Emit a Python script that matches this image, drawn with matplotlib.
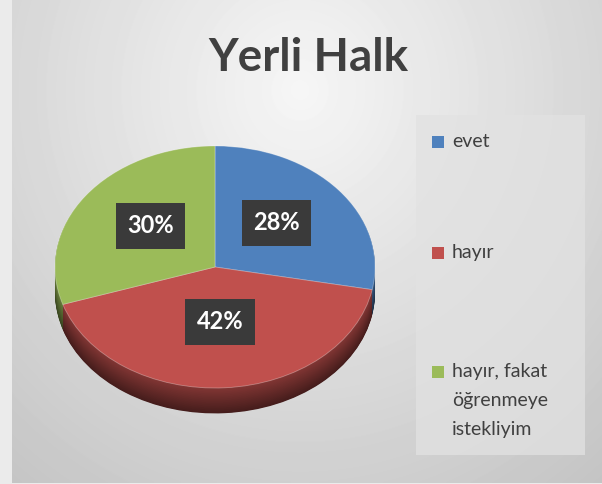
import textwrap
import numpy as np
import matplotlib
matplotlib.use('Agg')
import matplotlib.pyplot as plt
import matplotlib.patches as mpatches
from matplotlib.colors import to_rgb

# ── data ───────────────────────────────────────────────
title = 'Yerli Halk'
categories = ['evet', 'hayır', 'hayır, fakat öğrenmeye istekliyim']
values = [28, 42, 30]
colors = ['#4f81bd', '#c0504d', '#9bbb59']

plt.rcParams['font.family'] = ['Lato', 'DejaVu Sans']

W, H = 602, 484
fig = plt.figure(figsize=(W / 100, H / 100), dpi=100)
fig.patch.set_facecolor('#ebebeb')

# ── background gradient (chart area) ───────────────────
x0_px, y1_px = 12, 483
bg = fig.add_axes([x0_px / W, (H - y1_px) / H, (W - x0_px) / W, y1_px / H])
xx, yy = np.meshgrid(np.arange(x0_px, W), np.arange(0, y1_px))
r = np.sqrt(((xx - 300) / 420.0) ** 2 + ((yy - 90) / 450.0) ** 2)
shade = np.clip(0.965 - 0.175 * r, 0, 1)
bg.imshow(shade, cmap='gray', vmin=0, vmax=1, aspect='auto',
          interpolation='bilinear')
bg.axis('off')

# ── pie (squashed to look 3D) ──────────────────────────
cx, cy = 215, 267      # centre in pixels (from top)
rx, ry = 160, 121      # ellipse radii in pixels
xl, yl = (-1.2, 1.2), (-1.5, 1.2)
ax_w = (xl[1] - xl[0]) * rx
ax_h = (yl[1] - yl[0]) * ry
left = cx + xl[0] * rx
top = cy - yl[1] * ry
ax = fig.add_axes([left / W, (H - top - ax_h) / H, ax_w / W, ax_h / H])


def darker(c, k):
    return tuple(np.array(to_rgb(c)) * k)


depth = 0.21
for i, d in enumerate(np.linspace(depth, 0.004, 40)):
    k = 0.36 + 0.32 * (1 - d / depth)
    ax.pie(values, colors=[darker(c, k) for c in colors], startangle=90,
           counterclock=False, center=(0, -d),
           wedgeprops=dict(linewidth=0))

wedges, _, autotexts = ax.pie(
    values, colors=colors, startangle=90, counterclock=False,
    autopct='%d%%', pctdistance=0.5,
    wedgeprops=dict(linewidth=0.6, edgecolor='#ffffff55'),
    textprops=dict(color='white', fontsize=17, fontweight='bold'))
for t in autotexts:
    t.set_bbox(dict(boxstyle='square,pad=0.48', fc='#3a3a3a', ec='none'))
    y = t.get_position()[1]
    t.set_y(y + 0.045)

ax.set_aspect('auto')
ax.set_xlim(*xl)
ax.set_ylim(*yl)
ax.axis('off')

# ── title ──────────────────────────────────────────────
fig.text(308 / W, 1 - 58 / H, title, ha='center', va='center',
         fontsize=33, fontweight='bold', color='#404040')

# ── legend ─────────────────────────────────────────────
fig.patches.append(mpatches.Rectangle(
    (416 / W, 1 - 455 / H), 169 / W, 340 / H, transform=fig.transFigure,
    fc='#e2e2e2', ec='none', alpha=0.75, zorder=1))
entry_y = [142, 253, 372]
for cat, col, ey in zip(categories, colors, entry_y):
    fig.patches.append(mpatches.Rectangle(
        (432 / W, 1 - (ey + 6) / H), 12 / W, 12 / H,
        transform=fig.transFigure, fc=col, ec='none', zorder=2))
    fig.text(452 / W, 1 - (ey - 9) / H, textwrap.fill(cat, 12),
             ha='left', va='top', fontsize=14, color='#404040',
             linespacing=1.85, zorder=3)

fig.savefig('out.png', dpi=100)
